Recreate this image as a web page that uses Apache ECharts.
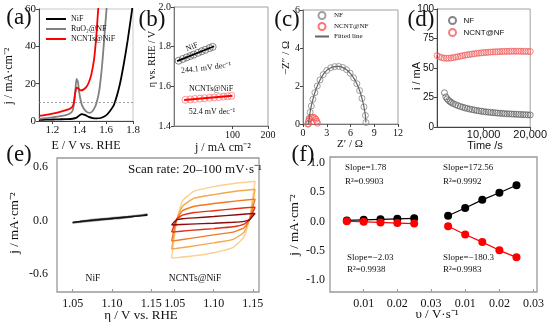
<!DOCTYPE html>
<html><head><meta charset="utf-8">
<script src="https://cdn.jsdelivr.net/npm/echarts@6/dist/echarts.min.js"></script>
<style>html,body{margin:0;padding:0;background:#fff}#c{width:550px;height:328px}</style>
</head><body><div id="c"></div>
<script>
// ---------- (a) LSV ----------
const aE_NiF = [1.10,1.15,1.20,1.25,1.30,1.35,1.38,1.40,1.42,1.44,1.47,1.50,1.53,1.56,1.60,1.63,1.66,1.70,1.73,1.76,1.79,1.80];
const aJ_NiF = [0.6,0.7,0.8,0.9,1.0,1.2,1.8,3.0,3.7,3.3,2.2,1.6,1.4,1.6,3.0,5.5,9,19,30,43,58,63];
const aE_Ru  = [1.10,1.15,1.20,1.25,1.30,1.33,1.35,1.36,1.37,1.38,1.39,1.40,1.42,1.45,1.48,1.51,1.53,1.55,1.57,1.59,1.605];
const aJ_Ru  = [1.1,1.5,2.0,2.5,3.2,4.0,5.5,9,16,22.5,21,15,8.5,5.2,4.4,6.5,10,17,30,48,62];
const aE_NC  = [1.10,1.15,1.20,1.25,1.30,1.33,1.35,1.36,1.37,1.38,1.39,1.41,1.43,1.45,1.47,1.49,1.51,1.525,1.535,1.545];
const aJ_NC  = [2.7,3.3,4.0,4.8,5.8,6.6,7.8,10,15,17.8,17.6,16.4,16.8,18,20.5,25,33,44,54,64];
const aXTicks = [1.2,1.4,1.6,1.8];
const aRefJ = 10;
// ---------- (b) Tafel ----------
const bJ_NiF   = [35,38,41,44,47,51,55,59,64,68];
const bEta_NiF = [1.729,1.738,1.746,1.753,1.760,1.769,1.777,1.784,1.793,1.799];
const bJ_NC    = [40,44,48,53,58,64,70,77,84,91,98];
const bEta_NC  = [1.532,1.534,1.536,1.538,1.540,1.542,1.544,1.546,1.548,1.550,1.552];
const bFitJ_NiF = [34,70],  bFitEta_NiF = [1.727,1.802];
const bFitJ_NC  = [39,100], bFitEta_NC  = [1.531,1.553];
const bJRange = [32,200];
const bXTicks = [100,200];
// ---------- (c) Nyquist ----------
const cZr_NF = [0.70,0.78,0.90,1.05,1.25,1.50,1.80,2.15,2.55,3.00,3.50,4.00,4.50,5.00,5.50,5.95,6.40,6.80,7.15,7.45,7.70,7.88,7.95];
const cZi_NF = [0.00,0.30,0.62,0.95,1.30,1.65,2.00,2.32,2.60,2.82,2.96,3.02,3.03,2.98,2.86,2.68,2.43,2.12,1.76,1.35,0.90,0.45,0.08];
const cZr_NC = [0.60,0.70,0.85,1.05,1.25,1.45,1.62,1.75,1.82];
const cZi_NC = [0.00,0.15,0.27,0.34,0.36,0.33,0.25,0.14,0.04];
// ---------- (d) i-t ----------
const dT_NC = [0,500,1000,1500,2000,2500,3000,3500,4000,4500,5000,5500,6000,6500,7000,7500,8000,8500,9000,9500,10000,10500,11000,11500,12000,12500,13000,13500,14000,14500,15000,15500,16000,16500,17000,17500,18000,18500,19000,19500,20000];
const dI_NC = [60.5,59.5,58.8,58.4,58.3,58.3,58.5,58.8,59.2,59.6,60.0,60.4,60.8,61.2,61.5,61.8,62.1,62.4,62.6,62.8,63.0,63.2,63.3,63.5,63.6,63.7,63.8,63.9,64.0,64.0,64.1,64.1,64.2,64.2,64.2,64.2,64.2,64.1,64.1,64.0,64.0];
const dT_NF = [1600,1900,2200,2500,2800,3100,3500,4000,4500,5000,5500,6000,6500,7000,7500,8000,8500,9000,9500,10000,10500,11000,11500,12000,12500,13000,13500,14000,14500,15000,15500,16000,16500,17000,17500,18000,18500,19000,19500,20000];
const dI_NF = [29,25.5,23.8,22.5,21.5,20.7,19.8,18.9,18.1,17.4,16.8,16.2,15.7,15.2,14.8,14.4,14.0,13.7,13.4,13.1,12.8,12.6,12.4,12.2,12.0,11.8,11.6,11.5,11.3,11.2,11.1,11.0,10.9,10.8,10.7,10.6,10.5,10.4,10.3,10.2];
const dXTicks = [10000,20000];
// ---------- (e) CV ----------
const eE_NiF_an = [1.05,1.06,1.08,1.10,1.12,1.145];
const eE_NiF_ca = [1.145,1.12,1.10,1.08,1.06,1.05];
const eNiF = [ // 100, 80, 60, 40, 20 mV/s : [anodic, cathodic]
  [[-0.030,-0.005,0.020,0.035,0.050,0.075],[0.075,0.030,0.012,-0.005,-0.022,-0.030]],
  [[-0.028,-0.008,0.016,0.031,0.046,0.071],[0.071,0.034,0.016,-0.001,-0.018,-0.028]],
  [[-0.025,-0.010,0.013,0.028,0.043,0.067],[0.067,0.037,0.020,0.003,-0.015,-0.025]],
  [[-0.022,-0.011,0.010,0.025,0.040,0.063],[0.063,0.039,0.023,0.006,-0.013,-0.022]],
  [[-0.020,-0.012,0.008,0.023,0.038,0.059],[0.059,0.041,0.025,0.008,-0.011,-0.020]]
];
const eE_NC_an = [1.046,1.049,1.053,1.060,1.075,1.100,1.130,1.153];
const eE_NC_ca = [1.153,1.150,1.146,1.139,1.125,1.100,1.070,1.046];
const eNC = [ // 100, 80, 60, 40, 20 mV/s
  [[-0.42,-0.22,0.02,0.22,0.33,0.38,0.42,0.44],[0.44,0.26,0.03,-0.18,-0.30,-0.36,-0.40,-0.42]],
  [[-0.32,-0.16,0.02,0.16,0.25,0.29,0.33,0.35],[0.35,0.20,0.02,-0.13,-0.21,-0.25,-0.29,-0.32]],
  [[-0.23,-0.11,0.02,0.11,0.16,0.19,0.22,0.24],[0.24,0.14,0.01,-0.08,-0.13,-0.16,-0.20,-0.23]],
  [[-0.13,-0.06,0.02,0.06,0.09,0.11,0.135,0.15],[0.15,0.09,0.01,-0.04,-0.07,-0.09,-0.11,-0.13]],
  [[-0.05,-0.02,0.01,0.02,0.03,0.045,0.065,0.08],[0.08,0.05,0.01,-0.01,-0.02,-0.03,-0.04,-0.05]]
];
const eNiFColors = ['#dcdcdc','#b0b0b0','#808080','#4a4a4a','#111111'];
const eNCColors  = ['#fbd190','#f7a84a','#f07a22','#e0301c','#8c0a0a'];
const eXTicks = [1.05,1.10,1.15];
const eYTicks = [-0.6,0,0.6];
// ---------- (f) capacitive current ----------
const fV = [0.005,0.010,0.015,0.020,0.025];
const fNiF_an = [0.020,0.029,0.038,0.047,0.056];
const fNiF_ca = [0.005,-0.005,-0.015,-0.025,-0.035];
const fNC_an  = [0.10,0.23,0.37,0.49,0.62];
const fNC_ca  = [-0.08,-0.22,-0.35,-0.49,-0.61];
const fXTicks = [0.01,0.02,0.03];
const fYTicks = [-1,-0.5,0,0.5,1];

// ---------- helpers ----------
const SERIF = 'Liberation Serif';
const SANS = 'Liberation Sans';
const zip = (xs, ys) => xs.map((x, i) => [x, ys[i]]);
function merge(a, b) {
  const o = Object.assign({}, a);
  for (const k in b) {
    const v = b[k];
    if (v && typeof v === 'object' && !Array.isArray(v) && typeof v !== 'function' &&
        a[k] && typeof a[k] === 'object' && !Array.isArray(a[k])) o[k] = merge(a[k], v);
    else o[k] = v;
  }
  return o;
}
const baseAxis = {
  type: 'value', splitLine: { show: false },
  axisLine: { show: true, onZero: false, lineStyle: { color: '#444', width: 1 } },
  axisTick: { show: true, length: 3, lineStyle: { color: '#444' } },
  axisLabel: { fontFamily: SERIF, fontSize: 11, color: '#111', margin: 4 }
};
const hidden = (g) => ({ type: 'value', gridIndex: g, show: false, min: 0, max: 1 });
const fx = (d) => (v) => v.toFixed(d);

const grids = [
  { left: 39, top: 9, width: 94, height: 112, show: true, borderColor: '#c8c8c8', borderWidth: 1 },
  { left: 174, top: 7, width: 94, height: 119, show: true, borderColor: '#a0a0a0', borderWidth: 1 },
  { left: 303, top: 10, width: 95, height: 114, show: true, borderColor: '#a0a0a0', borderWidth: 1 },
  { left: 437, top: 9, width: 95, height: 118, show: true, borderColor: '#a0a0a0', borderWidth: 1 },
  { left: 57, top: 158, width: 202, height: 134, show: true, borderColor: '#999', borderWidth: 1.3 },
  { left: 57, top: 158, width: 106, height: 134 },
  { left: 163, top: 158, width: 96, height: 134 },
  { left: 330, top: 157, width: 207, height: 135, show: true, borderColor: '#999', borderWidth: 1.3 },
  { left: 330, top: 157, width: 101, height: 135 },
  { left: 431, top: 157, width: 106, height: 135 }
];

const innerX = (g, min, max, ticks, dec) => merge(baseAxis, {
  gridIndex: g, min, max,
  axisLine: { show: false },
  axisTick: { inside: true, length: 3, customValues: ticks, lineStyle: { color: '#999' } },
  axisLabel: { fontSize: 12, margin: 6, customValues: ticks, formatter: fx(dec) }
});

const xAxes = [
  merge(baseAxis, { gridIndex: 0, min: 1.1, max: 1.8,
    axisLabel: { customValues: aXTicks, formatter: fx(1) }, axisTick: { customValues: aXTicks } }),
  merge(baseAxis, { gridIndex: 1, min: Math.log10(bJRange[0]), max: Math.log10(bJRange[1]),
    axisLine: { lineStyle: { color: '#777' } },
    axisLabel: { fontSize: 10, customValues: bXTicks.map(Math.log10), formatter: v => String(Math.round(Math.pow(10, v))) },
    axisTick: { customValues: bXTicks.map(Math.log10) } }),
  merge(baseAxis, { gridIndex: 2, min: 0, max: 12, interval: 3,
    axisLine: { lineStyle: { color: '#777' } }, axisLabel: { fontSize: 10 } }),
  merge(baseAxis, { gridIndex: 3, min: 0, max: 20000,
    axisLabel: { fontFamily: SANS, fontSize: 11, margin: 2, customValues: dXTicks, formatter: v => v.toLocaleString('en-US') },
    axisTick: { customValues: dXTicks } }),
  hidden(4),
  innerX(5, 1.03, 1.165, eXTicks, 2),
  innerX(6, 1.035, 1.158, eXTicks, 2),
  hidden(7),
  innerX(8, 0, 0.03, fXTicks, 2),
  innerX(9, 0, 0.031, fXTicks, 2)
];

const yAxes = [
  merge(baseAxis, { gridIndex: 0, min: 0, max: 60, interval: 20, axisLabel: { margin: 3 } }),
  merge(baseAxis, { gridIndex: 1, min: 1.4, max: 2.0, interval: 0.2,
    axisLine: { lineStyle: { color: '#777' } }, axisLabel: { fontSize: 10, formatter: fx(1), margin: 3 } }),
  merge(baseAxis, { gridIndex: 2, min: 0, max: 6, interval: 2,
    axisLine: { lineStyle: { color: '#777' } }, axisLabel: { fontSize: 10, margin: 3 } }),
  merge(baseAxis, { gridIndex: 3, min: 0, max: 100, interval: 25,
    axisLabel: { fontFamily: SANS, fontSize: 10, margin: 3 } }),
  hidden(4),
  merge(baseAxis, { gridIndex: 5, min: -0.8, max: 0.7, axisLine: { show: false }, axisTick: { show: false },
    axisLabel: { fontSize: 12, margin: 9, customValues: eYTicks, formatter: fx(1) } }),
  { type: 'value', gridIndex: 6, show: false, min: -0.8, max: 0.7 },
  hidden(7),
  merge(baseAxis, { gridIndex: 8, min: -1.2, max: 1.1, axisLine: { show: false }, axisTick: { show: false },
    axisLabel: { fontSize: 12, margin: 5, customValues: fYTicks, formatter: fx(1) } }),
  { type: 'value', gridIndex: 9, show: false, min: -1.2, max: 1.1 }
];

const series = [];
// (a)
series.push({ type: 'line', name: 'NiF', xAxisIndex: 0, yAxisIndex: 0, data: zip(aE_NiF, aJ_NiF),
  symbol: 'none', smooth: 0.25, lineStyle: { color: '#000', width: 1.8 }, itemStyle: { color: '#000' },
  markLine: { silent: true, symbol: 'none', label: { show: false }, animation: false,
    lineStyle: { color: '#888', type: [2, 2], width: 0.8 }, data: [{ yAxis: aRefJ }] } });
series.push({ type: 'line', name: 'RuO\u2082@NF', xAxisIndex: 0, yAxisIndex: 0, data: zip(aE_Ru, aJ_Ru),
  symbol: 'none', smooth: 0.25, lineStyle: { color: '#808080', width: 1.8 }, itemStyle: { color: '#808080' } });
series.push({ type: 'line', name: 'NCNTs@NiF', xAxisIndex: 0, yAxisIndex: 0, data: zip(aE_NC, aJ_NC),
  symbol: 'none', smooth: 0.25, lineStyle: { color: '#ff0000', width: 1.8 }, itemStyle: { color: '#ff0000' } });
// (b)
const lg = (arr) => arr.map(Math.log10);
series.push({ type: 'scatter', xAxisIndex: 1, yAxisIndex: 1, data: zip(lg(bJ_NiF), bEta_NiF), symbolSize: 7,
  itemStyle: { color: 'rgba(0,0,0,0)', borderColor: '#555', borderWidth: 0.9 } });
series.push({ type: 'line', xAxisIndex: 1, yAxisIndex: 1, data: zip(lg(bFitJ_NiF), bFitEta_NiF), symbol: 'none',
  lineStyle: { color: '#000', width: 1.8 } });
series.push({ type: 'scatter', xAxisIndex: 1, yAxisIndex: 1, data: zip(lg(bJ_NC), bEta_NC), symbolSize: 7,
  itemStyle: { color: 'rgba(0,0,0,0)', borderColor: '#ff7070', borderWidth: 0.9 } });
series.push({ type: 'line', xAxisIndex: 1, yAxisIndex: 1, data: zip(lg(bFitJ_NC), bFitEta_NC), symbol: 'none',
  lineStyle: { color: '#ff0000', width: 2 } });
// (c)
series.push({ type: 'scatter', name: 'NF', xAxisIndex: 2, yAxisIndex: 2, data: zip(cZr_NF, cZi_NF), symbolSize: 6,
  itemStyle: { color: 'rgba(0,0,0,0)', borderColor: '#888', borderWidth: 1 } });
series.push({ type: 'scatter', name: 'NCNT@NF', xAxisIndex: 2, yAxisIndex: 2, data: zip(cZr_NC, cZi_NC), symbolSize: 6,
  itemStyle: { color: 'rgba(0,0,0,0)', borderColor: '#ff5050', borderWidth: 1 } });
series.push({ type: 'line', name: 'Fitted line', xAxisIndex: 2, yAxisIndex: 2, data: zip(cZr_NF, cZi_NF), symbol: 'none',
  smooth: 0.4, lineStyle: { color: '#666', width: 1.2 }, itemStyle: { color: '#666' } });
// (d)
series.push({ type: 'scatter', name: 'NF ', xAxisIndex: 3, yAxisIndex: 3, data: zip(dT_NF, dI_NF), symbolSize: 6,
  itemStyle: { color: 'rgba(0,0,0,0)', borderColor: '#666', borderWidth: 1 } });
series.push({ type: 'scatter', name: 'NCNT@NF ', xAxisIndex: 3, yAxisIndex: 3, data: zip(dT_NC, dI_NC), symbolSize: 6,
  itemStyle: { color: 'rgba(0,0,0,0)', borderColor: '#f06262', borderWidth: 1 } });
// (e)
eNiF.forEach((loop, i) => series.push({ type: 'line', xAxisIndex: 5, yAxisIndex: 5,
  data: zip(eE_NiF_an, loop[0]).concat(zip(eE_NiF_ca, loop[1])), symbol: 'none', smooth: 0.15,
  lineStyle: { color: eNiFColors[i], width: 1.3 } }));
eNC.forEach((loop, i) => series.push({ type: 'line', xAxisIndex: 6, yAxisIndex: 6,
  data: zip(eE_NC_an, loop[0]).concat(zip(eE_NC_ca, loop[1])), symbol: 'none', smooth: 0.15,
  lineStyle: { color: eNCColors[i], width: 1.4 } }));
// (f)
const fLine = (xi, ys, col) => ({ type: 'line', xAxisIndex: xi, yAxisIndex: xi, data: zip(fV, ys),
  symbol: 'circle', symbolSize: 8, showSymbol: true, itemStyle: { color: col }, lineStyle: { color: col, width: 1.2 } });
series.push(fLine(8, fNiF_an, '#000'), fLine(8, fNiF_ca, '#ff0000'), fLine(9, fNC_an, '#000'), fLine(9, fNC_ca, '#ff0000'));

const noSym = { opacity: 0 };
const legends = [
  { left: 40, top: 10, orient: 'vertical', selectedMode: false,
    data: [{ name: 'NiF', itemStyle: noSym }, { name: 'RuO\u2082@NF', itemStyle: noSym }, { name: 'NCNTs@NiF', itemStyle: noSym }],
    itemWidth: 20, itemHeight: 9, itemGap: 2, textStyle: { fontFamily: SERIF, fontSize: 8, color: '#111' } },
  { left: 309, top: 6, orient: 'vertical', selectedMode: false,
    data: ['NF', 'NCNT@NF', { name: 'Fitted line', itemStyle: noSym }],
    itemWidth: 14, itemHeight: 7, itemGap: 2, textStyle: { fontFamily: SERIF, fontSize: 7, color: '#111' } },
  { left: 443, top: 11, orient: 'vertical', selectedMode: false, data: ['NF ', 'NCNT@NF '], formatter: n => n.trim(),
    itemWidth: 12, itemHeight: 7, itemGap: 3, textStyle: { fontFamily: SANS, fontSize: 8, color: '#111' } }
];

const T = (x, y, text, size, o = {}) => ({ type: 'text', x, y, rotation: o.rot || 0, z: 100,
  style: { text, fill: '#111', font: `${size}px "${o.font || SERIF}"`, align: o.align || 'center', verticalAlign: 'middle' } });
const R = Math.PI / 2;
const graphics = [
  T(19, 18, '(a)', 23), T(152, 20, '(b)', 23), T(287, 20, '(c)', 23), T(421, 20, '(d)', 23),
  T(19, 155, '(e)', 23), T(303, 155, '(f)', 23),
  // axis titles
  T(86, 146, 'E / V vs. RHE', 12), T(9, 76, 'j / mA\u00B7cm\u207B\u00B2', 12, { rot: R }),
  T(223, 148, 'j / mA cm\u207B\u00B2', 12), T(152, 59, '\u03B7 vs. RHE / V', 10, { rot: R }),
  T(350, 144, 'Z\u2032 / \u03A9', 11), T(286, 58, '\u2212Z\u2033 / \u03A9', 11, { rot: R }),
  T(485, 146, 'Time /s', 11, { font: SANS }), T(417, 76, 'i / mA', 11, { rot: R, font: SANS }),
  T(141, 316, '\u03B7 / V vs. RHE', 13), T(15, 223, 'j / mA\u00B7cm\u207B\u00B2', 13, { rot: R }),
  T(437, 315, '\u03C5 / V\u00B7s\u207B\u00B9', 13), T(295, 225, 'j / mA\u00B7cm\u207B\u00B2', 13, { rot: R }),
  // (b) annotations
  T(192, 47, 'NiF', 8, { rot: 0.4 }), T(206, 68, '244.1 mV dec\u207B\u00B9', 8, { rot: 0.12 }),
  T(211, 89, 'NCNTs@NiF', 8), T(212, 112, '52.4 mV dec\u207B\u00B9', 8),
  // (e) annotations
  T(128, 170, 'Scan rate: 20\u2013100 mV\u00B7s\u207B\u00B9', 13, { align: 'left' }),
  T(93, 278, 'NiF', 9.5), T(195, 278, 'NCNTs@NiF', 9.5),
  // (f) annotations
  T(345, 168, 'Slope=1.78', 9, { align: 'left' }), T(345, 182, 'R\u00B2=0.9903', 9, { align: 'left' }),
  T(443, 168, 'Slope=172.56', 9, { align: 'left' }), T(443, 182, 'R\u00B2=0.9992', 9, { align: 'left' }),
  T(347, 258, 'Slope=\u22122.03', 9, { align: 'left' }), T(347, 270, 'R\u00B2=0.9938', 9, { align: 'left' }),
  T(443, 258, 'Slope=\u2212180.3', 9, { align: 'left' }), T(443, 270, 'R\u00B2=0.9983', 9, { align: 'left' })
];

const chart = echarts.init(document.getElementById('c'), null, { renderer: 'canvas' });
chart.setOption({
  animation: false, backgroundColor: '#fff',
  grid: grids, xAxis: xAxes, yAxis: yAxes, legend: legends, series,
  graphic: { elements: graphics }
});
</script></body></html>
